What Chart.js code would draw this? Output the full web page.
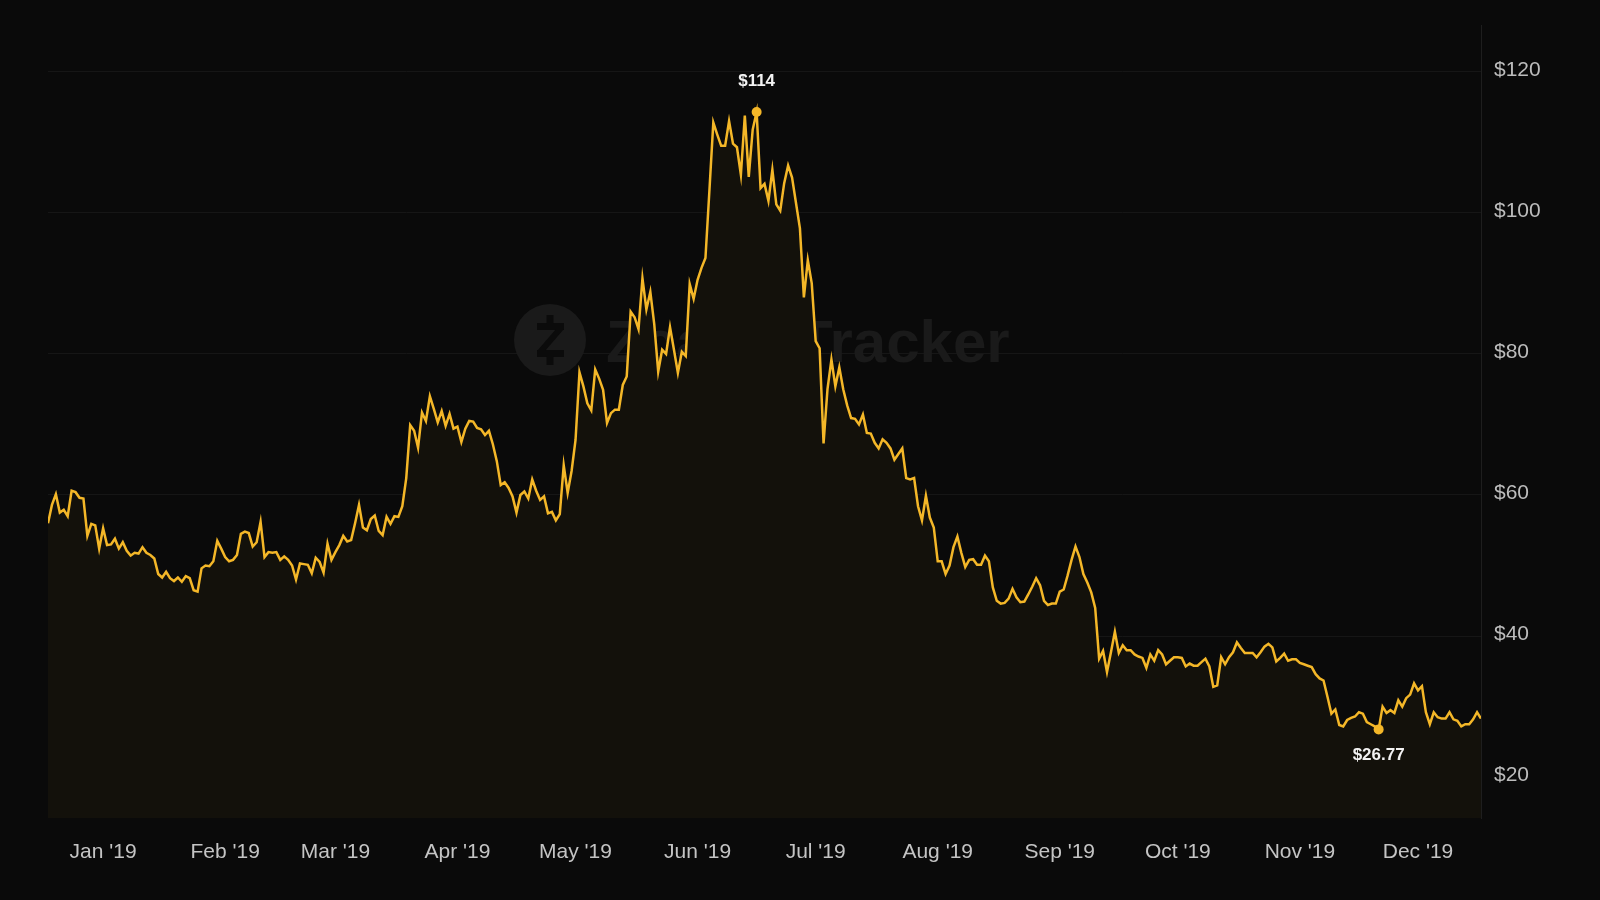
<!DOCTYPE html>
<html>
<head>
<meta charset="utf-8">
<title>Zcash price 2019</title>
<script src="https://cdn.jsdelivr.net/npm/chart.js@4.4.1/dist/chart.umd.min.js"></script>
<style>
  html, body { margin: 0; padding: 0; background: #0a0a0a; }
  canvas { display: block; }
</style>
</head>
<body>
<canvas id="priceChart" width="1600" height="900"></canvas>
<script>
// daily close, USD, 2019 (one array per month)
const pricesJan = [56.0, 58.6, 60.1, 57.5, 57.9, 57.0, 60.6, 60.4, 59.6, 59.5, 54.2, 55.9, 55.7, 52.4, 55.3, 52.9,
  53.0, 53.8, 52.4, 53.3, 52.1, 51.4, 51.8, 51.7, 52.6, 51.8, 51.5, 51.0, 48.8, 48.3, 49.1];
const pricesFeb = [48.2, 47.8, 48.3, 47.7, 48.5, 48.2, 46.5, 46.3, 49.6, 50.0, 49.9, 50.6, 53.5, 52.4, 51.2, 50.6,
  50.8, 51.5, 54.5, 54.8, 54.6, 52.7, 53.3, 56.2, 51.2, 51.9, 51.8, 51.9];
const pricesMar = [50.8, 51.3, 50.8, 50.0, 48.0, 50.3, 50.2, 50.1, 48.9, 51.1, 50.5, 49.0, 53.1, 50.8, 51.9, 52.9,
  54.2, 53.4, 53.6, 56.0, 58.6, 55.4, 55.0, 56.6, 57.1, 54.9, 54.3, 56.9, 55.9, 57.0, 56.9];
const pricesApr = [58.4, 62.4, 69.9, 69.1, 66.7, 71.7, 70.5, 74.0, 72.2, 70.3, 71.9, 69.8, 71.5, 69.4, 69.7, 67.5,
  69.4, 70.5, 70.4, 69.5, 69.3, 68.5, 69.1, 67.2, 64.8, 61.4, 61.8, 61.0, 59.8, 57.5];
const pricesMay = [60.0, 60.5, 59.5, 62.2, 60.6, 59.3, 59.8, 57.4, 57.6, 56.4, 57.3, 64.2, 60.3, 63.4, 67.8, 77.4,
  75.4, 73.0, 72.0, 77.8, 76.5, 74.9, 70.2, 71.6, 72.1, 72.1, 75.6, 76.8, 86.0, 85.2, 83.5];
const pricesJun = [90.7, 86.3, 88.8, 84.2, 77.5, 80.6, 80.0, 83.8, 80.6, 77.3, 80.3, 79.7, 89.9, 87.8, 90.5, 92.2,
  93.6, 103.1, 112.8, 111.1, 109.5, 109.5, 113.0, 109.8, 109.3, 105.4, 113.8, 105.1, 111.8, 114.3];
const pricesJul = [103.5, 104.1, 101.7, 106.1, 101.2, 100.3, 104.2, 106.7, 105.0, 101.4, 97.8, 88.0, 93.3, 90.0, 81.8, 80.8,
  67.3, 75.0, 79.2, 75.4, 78.1, 75.0, 72.7, 70.9, 70.8, 70.0, 71.4, 68.8, 68.7, 67.4, 66.6];
const pricesAug = [67.9, 67.4, 66.6, 65.0, 65.8, 66.6, 62.4, 62.2, 62.4, 58.4, 56.4, 59.9, 56.8, 55.4, 50.6, 50.6,
  48.8, 50.0, 52.6, 54.1, 51.8, 49.8, 50.8, 50.9, 50.1, 50.1, 51.4, 50.6, 46.9, 45.0, 44.6];
const pricesSep = [44.7, 45.3, 46.7, 45.5, 44.8, 44.9, 45.9, 47.0, 48.2, 47.2, 45.0, 44.4, 44.6, 44.6, 46.3, 46.6,
  48.6, 50.8, 52.7, 51.2, 48.8, 47.6, 46.2, 44.0, 36.8, 37.9, 34.9, 37.7, 40.6, 37.6];
const pricesOct = [38.7, 38.0, 38.0, 37.4, 37.1, 36.9, 35.5, 37.4, 36.5, 38.0, 37.4, 36.0, 36.5, 37.0, 37.0, 36.9,
  35.7, 36.1, 35.8, 35.8, 36.3, 36.8, 35.7, 32.8, 33.0, 37.0, 36.0, 37.0, 37.7, 39.1, 38.3];
const pricesNov = [37.6, 37.6, 37.6, 37.0, 37.7, 38.5, 38.9, 38.4, 36.4, 36.9, 37.5, 36.5, 36.7, 36.7, 36.2, 36.0,
  35.8, 35.6, 34.6, 34.0, 33.7, 31.4, 29.0, 29.6, 27.4, 27.2, 28.1, 28.4, 28.6, 29.2];
const pricesDec = [29.0, 27.8, 27.5, 27.2, 26.77, 30.0, 29.1, 29.5, 29.1, 30.9, 30.0, 31.2, 31.7, 33.3, 32.3, 32.9,
  29.2, 27.5, 29.2, 28.5, 28.3, 28.3, 29.2, 28.2, 28.0, 27.2, 27.5, 27.5, 28.2, 29.2, 28.3];

// x ticks: the 15th of each month (day of year, 0 = Jan 1)
const monthLabels = ["Jan '19", "Feb '19", "Mar '19", "Apr '19", "May '19", "Jun '19",
  "Jul '19", "Aug '19", "Sep '19", "Oct '19", "Nov '19", "Dec '19"];
const tickDays = [14, 45, 73, 104, 134, 165, 195, 226, 257, 287, 318, 348];
const priceTicks = [20, 40, 60, 80, 100, 120];

const prices = [].concat(pricesJan, pricesFeb, pricesMar, pricesApr, pricesMay, pricesJun,
  pricesJul, pricesAug, pricesSep, pricesOct, pricesNov, pricesDec);

const gold = "#f4b728";
const maxIdx = prices.indexOf(Math.max(...prices));
const minIdx = prices.indexOf(Math.min(...prices));

function fmtPrice(v) {
  return "$" + (v >= 100 ? Math.round(v) : v.toFixed(2));
}

// faint logo behind the line
const watermark = {
  id: "watermark",
  beforeDatasetsDraw(chart) {
    const ctx = chart.ctx;
    ctx.save();
    ctx.fillStyle = "#1a1a1a";
    ctx.beginPath();
    ctx.arc(550, 340, 36, 0, Math.PI * 2);
    ctx.fill();

    ctx.fillStyle = "#0b0b0b";
    ctx.fillRect(537, 323, 27, 7);
    ctx.fillRect(537, 350, 27, 7);
    ctx.fillRect(546.5, 315, 7, 9);
    ctx.fillRect(546.5, 356, 7, 9);
    ctx.beginPath();
    ctx.moveTo(556, 329);
    ctx.lineTo(564, 329);
    ctx.lineTo(545, 351);
    ctx.lineTo(537, 351);
    ctx.closePath();
    ctx.fill();

    ctx.fillStyle = "#1a1a1a";
    ctx.font = "bold 60px 'Liberation Sans', Arial, sans-serif";
    ctx.textBaseline = "alphabetic";
    ctx.fillText("Zcash Tracker", 606, 362);
    ctx.restore();
  }
};

// high / low value labels
const extremeLabels = {
  id: "extremeLabels",
  afterDatasetsDraw(chart) {
    const meta = chart.getDatasetMeta(0);
    const ctx = chart.ctx;
    ctx.save();
    ctx.fillStyle = "#f2f2f2";
    ctx.font = "bold 17px 'Liberation Sans', Arial, sans-serif";
    ctx.textAlign = "center";
    ctx.textBaseline = "middle";
    const hi = meta.data[maxIdx];
    ctx.fillText(fmtPrice(prices[maxIdx]), hi.x, hi.y - 31);
    const lo = meta.data[minIdx];
    ctx.fillText(fmtPrice(prices[minIdx]), lo.x, lo.y + 26);
    ctx.restore();
  }
};

new Chart(document.getElementById("priceChart"), {
  type: "line",
  data: {
    datasets: [{
      data: prices.map((v, i) => ({ x: i, y: v })),
      borderColor: gold,
      borderWidth: 2.5,
      backgroundColor: "#13110b",
      fill: "start",
      tension: 0,
      pointRadius: (c) => (c.dataIndex === maxIdx || c.dataIndex === minIdx ? 5 : 0),
      pointBackgroundColor: gold,
      pointBorderWidth: 0
    }]
  },
  options: {
    responsive: false,
    animation: false,
    devicePixelRatio: 1,
    layout: { padding: { left: 48, top: 24, right: 0, bottom: 0 } },
    plugins: {
      legend: { display: false },
      tooltip: { enabled: false }
    },
    scales: {
      x: {
        type: "linear",
        min: 0,
        max: prices.length - 1,
        afterBuildTicks: (s) => { s.ticks = tickDays.map((d) => ({ value: d })); },
        afterFit: (s) => { s.height = 82; },
        grid: { display: false, drawTicks: false },
        border: { display: false },
        ticks: {
          autoSkip: false,
          maxRotation: 0,
          padding: 22,
          color: "#c4c4c4",
          font: { family: "'Liberation Sans', Arial, sans-serif", size: 21 },
          callback: (v) => monthLabels[tickDays.indexOf(v)]
        }
      },
      y: {
        position: "right",
        min: 14.21,
        max: 126.54,
        afterBuildTicks: (s) => { s.ticks = priceTicks.map((v) => ({ value: v })); },
        afterFit: (s) => { s.width = 119; },
        grid: { color: "#161616", lineWidth: 1, drawTicks: false },
        border: { display: true, color: "#1e1e1e", width: 1 },
        ticks: {
          padding: 13,
          labelOffset: -2,
          color: "#bcbcbc",
          font: { family: "'Liberation Sans', Arial, sans-serif", size: 21 },
          callback: (v) => "$" + v
        }
      }
    }
  },
  plugins: [watermark, extremeLabels]
});
</script>
</body>
</html>
